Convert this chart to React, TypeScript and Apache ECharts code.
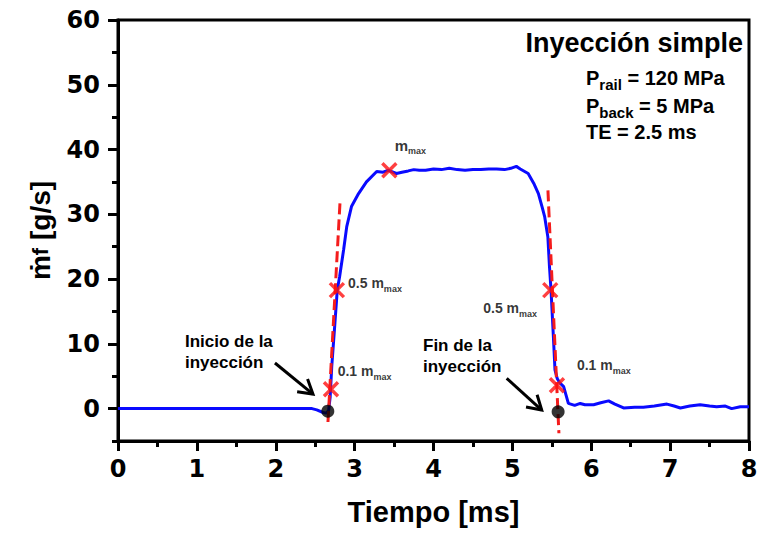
import { useEffect, useRef } from "react";
import * as echarts from "echarts";

// Injection rate trace: time [ms] vs mass flow rate [g/s]
const timeMs = [
  0, 2.46, 2.52, 2.6, 2.64, 2.67, 2.69, 2.71, 2.75, 2.78, 2.81, 2.86, 2.9, 2.96, 3.05, 3.15, 3.28, 3.36,
  3.43, 3.53, 3.6, 3.68, 3.75, 3.82, 3.9, 4.0, 4.1, 4.2, 4.3, 4.4, 4.5, 4.6, 4.7, 4.8, 4.9, 4.98, 5.05,
  5.1, 5.2, 5.27, 5.33, 5.38, 5.41, 5.45, 5.47, 5.49, 5.52, 5.54, 5.57, 5.6, 5.65, 5.71, 5.79, 5.86,
  5.92, 6.03, 6.12, 6.22, 6.3, 6.41, 6.55, 6.66, 6.8, 6.96, 7.05, 7.13, 7.25, 7.38, 7.5, 7.59, 7.7,
  7.78, 7.89, 8.0,
];
const massFlow = [
  0, 0, -0.2, -0.6, -0.7, -0.3, 1.8, 6.5, 13.2, 18.3, 20.4, 24.5, 28.1, 31.2, 33.2, 35.0, 36.6, 36.5,
  36.8, 36.3, 36.5, 36.7, 36.9, 36.8, 36.8, 37.0, 36.9, 37.1, 36.9, 36.8, 36.9, 36.9, 37.0, 37.0, 36.9,
  37.1, 37.4, 37.0, 36.3, 34.8, 33.2, 31.0, 29.6, 26.5, 22.0, 18.3, 11.1, 6.0, 4.6, 4.0, 3.4, 0.8, 0.5,
  0.8, 0.6, 0.6, 0.9, 1.2, 0.7, 0.1, 0.2, 0.2, 0.4, 0.7, 0.4, 0.1, 0.4, 0.6, 0.4, 0.3, 0.4, 0.0, 0.3,
  0.3,
];

const yTickValues = [0, 10, 20, 30, 40, 50, 60];

// Characteristic points (0.1, 0.5 and max flow)
const markerT = [2.7, 2.775, 3.44, 5.48, 5.565];
const markerY = [3.0, 18.3, 36.8, 18.3, 3.6];
const markerText = ["0.1 m", "0.5 m", "m", "0.5 m", "0.1 m"];
const markerSub = ["max", "max", "max", "max", "max"];

// Start / end of injection
const eventT = [2.66, 5.58];
const eventY = [-0.4, -0.5];

// Slope lines through the 0.1 and 0.5 points
const startSlopeT = [2.662, 2.815];
const startSlopeY = [-2.07, 31.9];
const endSlopeT = [5.451, 5.59];
const endSlopeY = [33.7, -3.8];

// Callouts: text block and arrow
const calloutText = ["Inicio de la\ninyección", "Fin de la\ninyección"];
const calloutTextT = [0.849, 3.867];
const calloutTextY = [12.05, 11.43];
const arrowTailT = [1.99, 4.928];
const arrowTailY = [7.04, 4.68];
const arrowTipT = [2.472, 5.372];
const arrowTipY = [2.25, -0.22];

// label placement for the characteristic points (px)
const markerLabelSide = ["right", "right", "right", "left", "right"];
const markerLabelOffset = [
  [-7, -17],
  [-2.5, -6.3],
  [-8.3, -24.4],
  [0.5, 18.7],
  [6.3, -19],
];

const SANS = "'Liberation Sans', Arial, 'DejaVu Sans', sans-serif";
const DIGITS = "'DejaVu Sans', sans-serif";
const RED = "#f41c1c";
const BLUE = "#0a0aff";

export default function App() {
  const ref = useRef<HTMLDivElement>(null);

  useEffect(() => {
    if (!ref.current) return;
    const chart = echarts.init(ref.current, undefined, { renderer: "svg" });

    const subRich = {
      v: { fontFamily: SANS, fontWeight: "bold", fontSize: 14, color: "#000", lineHeight: 16, verticalAlign: "top" },
      w: { fontFamily: SANS, fontWeight: "bold", fontSize: 15, color: "#000", lineHeight: 16, verticalAlign: "top" },
      s: { fontFamily: SANS, fontWeight: "bold", fontSize: 9, color: "#000", lineHeight: 10, padding: [10, 0, 0, 0] },
    };

    const headRich = {
      p: { fontFamily: SANS, fontWeight: "bold", fontSize: 20, color: "#000", lineHeight: 22, verticalAlign: "top" },
      s: { fontFamily: SANS, fontWeight: "bold", fontSize: 15, color: "#000", lineHeight: 15, padding: [11, 0, 0, 0] },
    };

    const option: any = {
      animation: false,
      backgroundColor: "#fff",
      grid: {
        left: 118,
        right: 8,
        top: 20,
        bottom: 92,
        containLabel: false,
        outerBoundsMode: "none",
        show: true,
        borderColor: "#000",
        borderWidth: 3,
        backgroundColor: "transparent",
      },
      xAxis: {
        type: "value",
        min: 0,
        max: 8,
        interval: 1,
        name: "Tiempo [ms]",
        nameLocation: "middle",
        nameGap: 56,
        nameTextStyle: { fontFamily: SANS, fontWeight: "bold", fontSize: 29, color: "#000" },
        axisLine: { show: true, onZero: false, lineStyle: { color: "#000", width: 3 } },
        axisTick: { show: true, length: 10, lineStyle: { color: "#000", width: 3 } },
        minorTick: { show: true, splitNumber: 2, length: 6, lineStyle: { color: "#000", width: 3 } },
        splitLine: { show: false },
        axisLabel: { margin: 16, fontFamily: DIGITS, fontWeight: "bold", fontSize: 24, color: "#000" },
      },
      yAxis: [
        {
          type: "value",
          min: -5,
          max: 60,
          interval: 5,
          name: "{m|ṁ}{f|f}{m| [g/s]}",
          nameLocation: "middle",
          nameGap: 63,
          nameRotate: 90,
          nameTextStyle: {
            rich: {
              m: { fontFamily: SANS, fontWeight: "bold", fontSize: 28, color: "#000", lineHeight: 30 },
              f: { fontFamily: SANS, fontWeight: "bold", fontSize: 22, color: "#000", lineHeight: 30 },
            },
          },
          axisLine: { show: true, onZero: false, lineStyle: { color: "#000", width: 3 } },
          axisTick: { show: true, length: 6, lineStyle: { color: "#000", width: 3 } },
          splitLine: { show: false },
          axisLabel: {
            customValues: yTickValues,
            margin: 18,
            fontFamily: DIGITS,
            fontWeight: "bold",
            fontSize: 24,
            color: "#000",
          },
        },
        {
          type: "value",
          min: -5,
          max: 60,
          interval: 5,
          position: "left",
          axisLine: { show: false, onZero: false },
          axisTick: { show: true, customValues: yTickValues, length: 10, lineStyle: { color: "#000", width: 3 } },
          axisLabel: { show: false },
          splitLine: { show: false },
        },
      ],
      graphic: [
        {
          type: "text",
          right: 14,
          top: 29,
          style: { text: "Inyección simple", font: `bold 27px ${SANS}`, fill: "#000" },
        },
        {
          type: "text",
          left: 586,
          top: 66,
          style: { text: "{p|P}{s|rail}{p| = 120 MPa}", rich: headRich },
        },
        {
          type: "text",
          left: 586,
          top: 94,
          style: { text: "{p|P}{s|back}{p| = 5 MPa}", rich: headRich },
        },
        {
          type: "text",
          left: 586,
          top: 122,
          style: { text: "{p|TE = 2.5 ms}", rich: headRich },
        },
      ],
      series: [
        {
          name: "mf",
          type: "line",
          data: timeMs.map((t, i) => [t, massFlow[i]]),
          showSymbol: false,
          symbol: "none",
          lineStyle: { color: BLUE, width: 3 },
          z: 2,
        },
        {
          name: "slope-start",
          type: "line",
          data: startSlopeT.map((t, i) => [t, startSlopeY[i]]),
          showSymbol: false,
          symbol: "none",
          lineStyle: { color: RED, width: 3, type: [11, 5] },
          z: 3,
        },
        {
          name: "slope-end",
          type: "line",
          data: endSlopeT.map((t, i) => [t, endSlopeY[i]]),
          showSymbol: false,
          symbol: "none",
          lineStyle: { color: RED, width: 3, type: [11, 5] },
          z: 3,
        },
        {
          name: "events",
          type: "scatter",
          data: eventT.map((t, i) => [t, eventY[i]]),
          symbol: "circle",
          symbolSize: 13,
          itemStyle: { color: "#000" },
          z: 4,
        },
        {
          name: "points",
          type: "scatter",
          symbol: "path://M0,0L10,10M10,0L0,10",
          symbolSize: 14,
          itemStyle: { color: "transparent", borderColor: "#ff1010", borderWidth: 3.4 },
          data: markerT.map((t, i) => ({
            value: [t, markerY[i]],
            label: {
              show: true,
              position: markerLabelSide[i],
              offset: markerLabelOffset[i],
              formatter: `{${i === 2 ? "w" : "v"}|${markerText[i]}}{s|${markerSub[i]}}`,
              rich: subRich,
            },
          })),
          z: 5,
        },
        {
          name: "callouts",
          type: "custom",
          clip: false,
          encode: { x: [0, 2, 4], y: [1, 3, 5] },
          data: calloutText.map((_, i) => [
            arrowTailT[i],
            arrowTailY[i],
            arrowTipT[i],
            arrowTipY[i],
            calloutTextT[i],
            calloutTextY[i],
          ]),
          renderItem: (params: any, api: any) => {
            const tail = api.coord([api.value(0), api.value(1)]);
            const tip = api.coord([api.value(2), api.value(3)]);
            const txt = api.coord([api.value(4), api.value(5)]);
            const ang = Math.atan2(tip[1] - tail[1], tip[0] - tail[0]);
            const len = 16;
            const spread = (31 * Math.PI) / 180;
            const a1 = [tip[0] - len * Math.cos(ang - spread), tip[1] - len * Math.sin(ang - spread)];
            const a2 = [tip[0] - len * Math.cos(ang + spread), tip[1] - len * Math.sin(ang + spread)];
            return {
              type: "group",
              children: [
                {
                  type: "line",
                  shape: { x1: tail[0], y1: tail[1], x2: tip[0], y2: tip[1] },
                  style: { stroke: "#000", lineWidth: 3 },
                },
                {
                  type: "polyline",
                  shape: { points: [a1, tip, a2] },
                  style: { stroke: "#000", fill: "none", lineWidth: 3 },
                },
                {
                  type: "text",
                  x: txt[0],
                  y: txt[1],
                  style: {
                    text: calloutText[params.dataIndex],
                    font: `bold 17px ${SANS}`,
                    lineHeight: 21,
                    fill: "#000",
                    align: "left",
                    verticalAlign: "top",
                  },
                },
              ],
            };
          },
          z: 5,
        },
      ],
    };

    chart.setOption(option);
    return () => chart.dispose();
  }, []);

  return (
    <div
      ref={ref}
      style={{ position: "fixed", left: 0, top: 0, width: 757, height: 533, background: "#fff" }}
    />
  );
}
